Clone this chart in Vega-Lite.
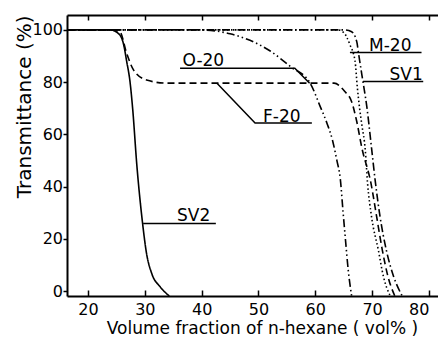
{
  "$schema": "https://vega.github.io/schema/vega-lite/v6.json",
  "width": 371,
  "height": 281,
  "autosize": {"type": "none"},
  "padding": {"left": 67, "top": 15, "right": 0, "bottom": 42},
  "background": "white",
  "config": {
    "view": {"stroke": null},
    "font": "DejaVu Sans",
    "axis": {"grid": false, "domainColor": "black", "domainWidth": 2, "tickColor": "black", "tickWidth": 1.5, "labelColor": "black", "titleColor": "black", "labelFont": "DejaVu Sans", "titleFont": "DejaVu Sans", "titleFontWeight": "normal"}
  },
  "datasets": {
    "curves": [
      {"series": "SV2", "v": 16.3, "t": 100}, {"series": "SV2", "v": 23.9, "t": 100}, {"series": "SV2", "v": 25.3, "t": 98.7}, {"series": "SV2", "v": 26.2, "t": 95}, {"series": "SV2", "v": 26.8, "t": 88}, {"series": "SV2", "v": 27.4, "t": 80}, {"series": "SV2", "v": 27.85, "t": 70}, {"series": "SV2", "v": 28.6, "t": 48}, {"series": "SV2", "v": 29.6, "t": 26}, {"series": "SV2", "v": 30.3, "t": 14.4}, {"series": "SV2", "v": 31.2, "t": 6.8}, {"series": "SV2", "v": 32.7, "t": 1.6}, {"series": "SV2", "v": 34.3, "t": -1.9},
      {"series": "F-20", "v": 16.3, "t": 100}, {"series": "F-20", "v": 24.2, "t": 100}, {"series": "F-20", "v": 25.6, "t": 99.3}, {"series": "F-20", "v": 26.8, "t": 91}, {"series": "F-20", "v": 28.0, "t": 84.7}, {"series": "F-20", "v": 30.3, "t": 80.8}, {"series": "F-20", "v": 33.9, "t": 79.6}, {"series": "F-20", "v": 63.3, "t": 79.6}, {"series": "F-20", "v": 65.2, "t": 76.4}, {"series": "F-20", "v": 66.4, "t": 72.5}, {"series": "F-20", "v": 67.3, "t": 64.9}, {"series": "F-20", "v": 68.2, "t": 54.8}, {"series": "F-20", "v": 69.8, "t": 41.3}, {"series": "F-20", "v": 70.8, "t": 28.5}, {"series": "F-20", "v": 71.8, "t": 15.7}, {"series": "F-20", "v": 72.8, "t": 5.5}, {"series": "F-20", "v": 74.0, "t": -1.9},
      {"series": "O-20", "v": 16.3, "t": 100}, {"series": "O-20", "v": 39.7, "t": 100}, {"series": "O-20", "v": 45.0, "t": 98.5}, {"series": "O-20", "v": 48.5, "t": 96}, {"series": "O-20", "v": 52.0, "t": 92}, {"series": "O-20", "v": 55.6, "t": 86}, {"series": "O-20", "v": 59.1, "t": 79.6}, {"series": "O-20", "v": 60.8, "t": 71}, {"series": "O-20", "v": 62.1, "t": 64}, {"series": "O-20", "v": 63.0, "t": 58}, {"series": "O-20", "v": 63.8, "t": 50}, {"series": "O-20", "v": 64.4, "t": 43}, {"series": "O-20", "v": 64.9, "t": 30}, {"series": "O-20", "v": 65.3, "t": 20}, {"series": "O-20", "v": 65.8, "t": 8}, {"series": "O-20", "v": 66.4, "t": -1.9},
      {"series": "M-20", "v": 16.3, "t": 100}, {"series": "M-20", "v": 64.0, "t": 100}, {"series": "M-20", "v": 65.0, "t": 99}, {"series": "M-20", "v": 66.1, "t": 94.3}, {"series": "M-20", "v": 67.0, "t": 88}, {"series": "M-20", "v": 67.4, "t": 78}, {"series": "M-20", "v": 67.8, "t": 70}, {"series": "M-20", "v": 68.2, "t": 63.6}, {"series": "M-20", "v": 68.8, "t": 54}, {"series": "M-20", "v": 69.2, "t": 41.3}, {"series": "M-20", "v": 69.9, "t": 28.5}, {"series": "M-20", "v": 71.1, "t": 15.7}, {"series": "M-20", "v": 72.0, "t": 5.5}, {"series": "M-20", "v": 73.2, "t": -1.9},
      {"series": "SV1", "v": 16.3, "t": 100}, {"series": "SV1", "v": 65.2, "t": 100}, {"series": "SV1", "v": 66.4, "t": 99.3}, {"series": "SV1", "v": 67.3, "t": 95.5}, {"series": "SV1", "v": 67.6, "t": 91.2}, {"series": "SV1", "v": 68.2, "t": 82.8}, {"series": "SV1", "v": 69.1, "t": 70.1}, {"series": "SV1", "v": 69.9, "t": 54.8}, {"series": "SV1", "v": 70.6, "t": 41.3}, {"series": "SV1", "v": 71.4, "t": 28.5}, {"series": "SV1", "v": 72.5, "t": 15.7}, {"series": "SV1", "v": 73.8, "t": 5.5}, {"series": "SV1", "v": 75.3, "t": -1.9}
    ],
    "leaders": [
      {"id": "O-20", "v": 36.2, "t": 85.3}, {"id": "O-20", "v": 56.4, "t": 85.3}, {"id": "O-20", "v": 59.0, "t": 79.6},
      {"id": "F-20", "v": 42.7, "t": 79.6}, {"id": "F-20", "v": 49.4, "t": 64.3}, {"id": "F-20", "v": 59.4, "t": 64.3},
      {"id": "M-20", "v": 66.1, "t": 91.3}, {"id": "M-20", "v": 78.7, "t": 91.3},
      {"id": "SV1", "v": 68.4, "t": 80.2}, {"id": "SV1", "v": 79.0, "t": 80.2},
      {"id": "SV2", "v": 29.7, "t": 25.9}, {"id": "SV2", "v": 42.5, "t": 25.9}
    ],
    "labels": [
      {"text": "O-20", "v": 40.3, "t": 86.3},
      {"text": "F-20", "v": 54.1, "t": 64.9},
      {"text": "M-20", "v": 73.2, "t": 91.9},
      {"text": "SV1", "v": 76.0, "t": 81.0},
      {"text": "SV2", "v": 38.6, "t": 26.8}
    ]
  },
  "layer": [
    {
      "data": {"name": "curves"},
      "mark": {"type": "line", "color": "black", "strokeWidth": 1.6, "interpolate": "monotone"},
      "encoding": {
        "x": {"field": "v", "type": "quantitative", "scale": {"domain": [16.3, 81.6], "nice": false, "zero": false},
              "axis": {"orient": "bottom", "values": [20, 30, 40, 50, 60, 70, 80], "tickSize": -6, "labelPadding": 11, "labelFontSize": 16, "labelFlush": 12,
                       "title": "Volume fraction of n-hexane ( vol% )", "titleFontSize": 17, "titleX": 195, "titleY": 32, "titleBaseline": "middle", "titleAlign": "center"}},
        "y": {"field": "t", "type": "quantitative", "scale": {"domain": [-1.9, 105.7], "nice": false, "zero": false},
              "axis": {"values": [0, 20, 40, 60, 80, 100], "tickSize": 4, "labelPadding": 0.5, "labelFontSize": 16,
                       "title": "Transmittance (%)", "titleFontSize": 20, "titleAnchor": "end", "titleX": -43, "titleBaseline": "middle"}},
        "detail": {"field": "series"},
        "strokeDash": {"field": "series", "type": "nominal", "legend": null,
                       "scale": {"domain": ["SV2", "F-20", "O-20", "M-20", "SV1"], "range": [[1, 0], [7, 4], [8, 3, 1.5, 3, 1.5, 3], [1.5, 2.5], [8, 3, 1.5, 3]]}}
      }
    },
    {
      "data": {"name": "leaders"},
      "mark": {"type": "line", "color": "black", "strokeWidth": 1.5},
      "encoding": {
        "x": {"field": "v", "type": "quantitative", "axis": null},
        "y": {"field": "t", "type": "quantitative", "axis": null},
        "detail": {"field": "id"}
      }
    },
    {
      "data": {"name": "labels"},
      "mark": {"type": "text", "color": "black", "fontSize": 17, "font": "DejaVu Sans", "align": "center", "baseline": "alphabetic"},
      "encoding": {
        "x": {"field": "v", "type": "quantitative", "axis": {"orient": "top", "values": [20, 30, 40, 50, 60, 70, 80], "labels": false, "tickSize": -5, "title": null}},
        "y": {"field": "t", "type": "quantitative", "axis": null},
        "text": {"field": "text"}
      }
    }
  ],
  "resolve": {"axis": {"x": "independent", "y": "independent"}}
}
